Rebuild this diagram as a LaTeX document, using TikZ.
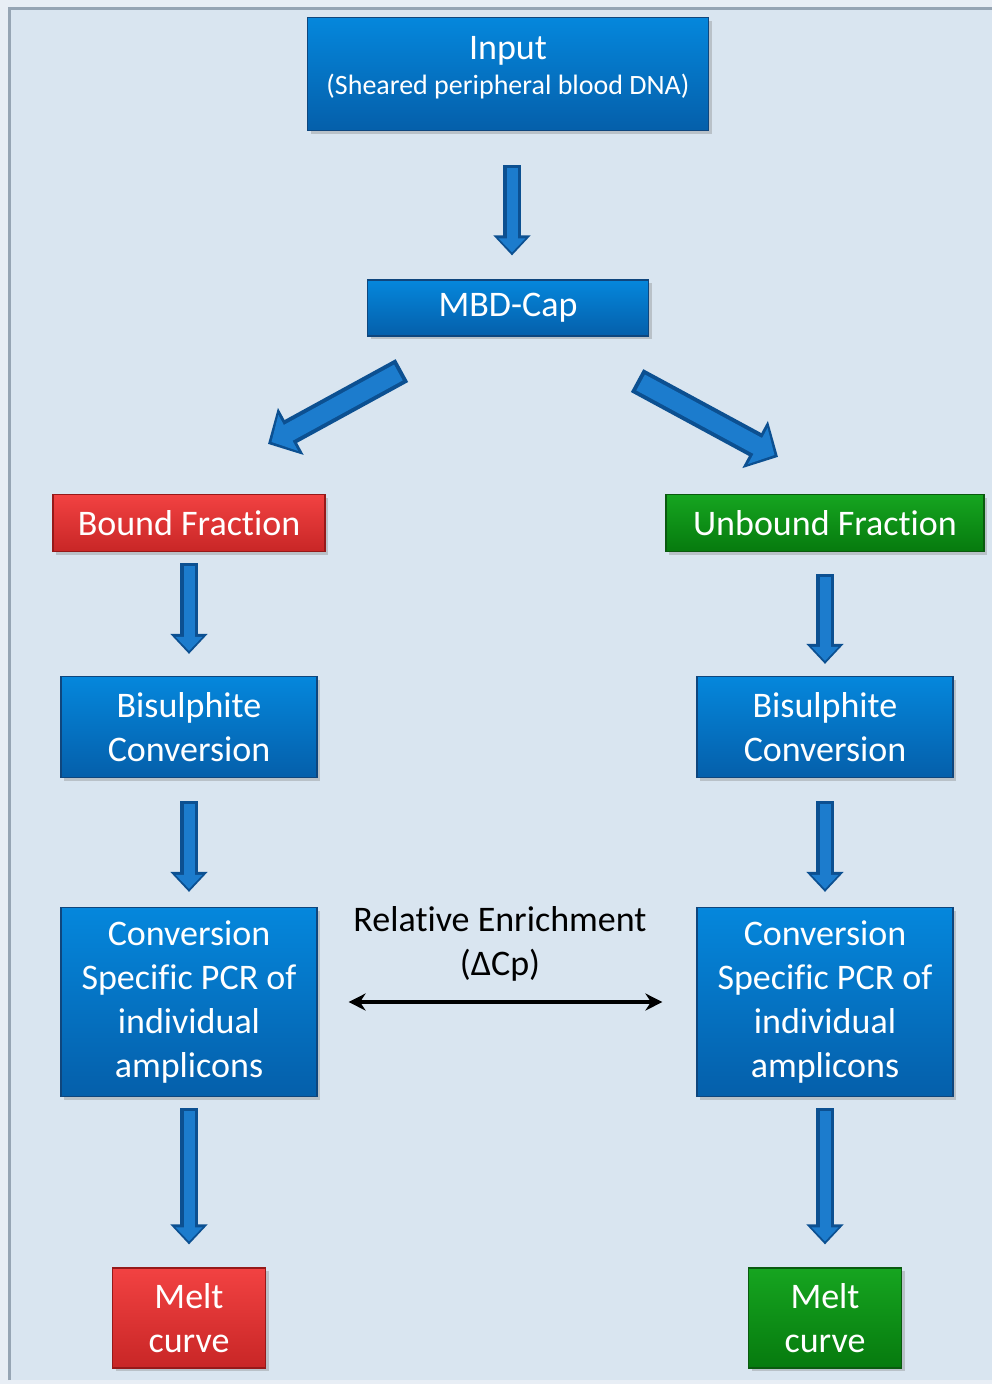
\documentclass[tikz,border=0pt]{standalone}
\usepackage{fontspec}
\setmainfont{Carlito}[Ligatures=NoCommon]
\usetikzlibrary{arrows.meta,shadows}

\definecolor{outerbg}{RGB}{232,238,245}
\definecolor{bgblue}{RGB}{217,229,240}
\definecolor{framegray}{RGB}{150,165,180}
\definecolor{bluetop}{RGB}{5,135,220}
\definecolor{bluebot}{RGB}{5,95,170}
\definecolor{blueedge}{RGB}{15,70,125}
\definecolor{arrowmid}{RGB}{28,124,205}
\definecolor{arrowedge}{RGB}{12,80,145}
\definecolor{redtop}{RGB}{242,66,66}
\definecolor{redbot}{RGB}{200,38,38}
\definecolor{rededge}{RGB}{150,25,25}
\definecolor{greentop}{RGB}{22,165,32}
\definecolor{greenbot}{RGB}{6,122,14}
\definecolor{greenedge}{RGB}{10,90,15}

\tikzset{
  box/.style={line width=1.2pt, text=white, align=center, inner sep=0pt,
    font=\fontsize{36}{44}\selectfont,
    drop shadow={shadow xshift=3pt, shadow yshift=-3pt, opacity=0.35}},
  bluebox/.style={box, draw=blueedge, top color=bluetop, bottom color=bluebot},
  redbox/.style={box, draw=rededge, top color=redtop, bottom color=redbot},
  greenbox/.style={box, draw=greenedge, top color=greentop, bottom color=greenbot},
  flow/.style={preaction={draw=arrowedge, line width=18pt, shorten <=0pt, shorten >=0pt,
      -{Triangle[width=36pt,length=20pt]}},
    draw=arrowmid, line width=11pt, shorten <=3pt, shorten >=3pt,
    -{Triangle[width=26pt,length=14pt]}},
  bigflow/.style={preaction={draw=arrowedge, line width=26pt, shorten <=0pt, shorten >=0pt,
      -{Triangle[width=52pt,length=26pt]}},
    draw=arrowmid, line width=18pt, shorten <=4pt, shorten >=4pt,
    -{Triangle[width=40pt,length=19pt]}},
  enrich/.style={line width=4pt, {Stealth[length=17pt,width=17pt]}-{Stealth[length=17pt,width=17pt]}}
}

\begin{document}
\begin{tikzpicture}[x=1pt,y=-1pt]
\useasboundingbox (0,0) rectangle (992,1384);
% background panel
\fill[outerbg] (0,0) rectangle (992,1384);
\fill[bgblue] (10,9) rectangle (992,1380);
\draw[framegray, line width=3pt] (9.5,1380) -- (9.5,8.5) -- (992,8.5);

% boxes
\node[bluebox, minimum width=401pt, minimum height=113pt, text depth=18pt] (input) at (508,74)
  {Input\\[-9pt]{\fontsize{28}{34}\selectfont (Sheared peripheral blood DNA)}};
\node[bluebox, minimum width=281pt, minimum height=56pt] (mbd) at (508,308) {MBD-Cap};
\node[redbox, minimum width=272pt, minimum height=57pt] (bound) at (189,523) {Bound Fraction};
\node[greenbox, minimum width=318pt, minimum height=57pt] (unbound) at (825,523) {Unbound Fraction};
\node[bluebox, minimum width=256pt, minimum height=101pt] (bisL) at (189,727) {Bisulphite\\Conversion};
\node[bluebox, minimum width=256pt, minimum height=101pt] (bisR) at (825,727) {Bisulphite\\Conversion};
\node[bluebox, minimum width=256pt, minimum height=189pt] (pcrL) at (189,1002)
  {Conversion\\Specific PCR of\\individual\\amplicons};
\node[bluebox, minimum width=256pt, minimum height=189pt] (pcrR) at (825,1002)
  {Conversion\\Specific PCR of\\individual\\amplicons};
\node[redbox, minimum width=153pt, minimum height=100pt] (meltL) at (189,1318) {Melt\\curve};
\node[greenbox, minimum width=153pt, minimum height=100pt] (meltR) at (825,1318) {Melt\\curve};

% block arrows
\draw[flow] ([xshift=4pt,yshift=-34pt]input.south) -- ([xshift=4pt,yshift=24pt]mbd.north);
\draw[bigflow] ([shift={(35pt,-34pt)}]mbd.south west) -- ([shift={(79pt,50pt)}]bound.north);
\draw[bigflow] ([shift={(-12pt,-44pt)}]mbd.south east) -- ([shift={(-47pt,37pt)}]unbound.north);
\draw[flow] ([yshift=-11pt]bound.south) -- ([yshift=22pt]bisL.north);
\draw[flow] ([yshift=-22pt]unbound.south) -- ([yshift=12pt]bisR.north);
\draw[flow] ([yshift=-23pt]bisL.south) -- ([yshift=15pt]pcrL.north);
\draw[flow] ([yshift=-23pt]bisR.south) -- ([yshift=15pt]pcrR.north);
\draw[flow] ([yshift=-11pt]pcrL.south) -- ([yshift=23pt]meltL.north);
\draw[flow] ([yshift=-11pt]pcrR.south) -- ([yshift=23pt]meltR.north);

% relative enrichment
\draw[enrich] ([xshift=31pt]pcrL.east) -- ([xshift=-34pt]pcrR.west);
\node[align=center, font=\fontsize{36}{44}\selectfont] (rel) at (500,944) {Relative Enrichment\\(ΔCp)};
\end{tikzpicture}
\end{document}
